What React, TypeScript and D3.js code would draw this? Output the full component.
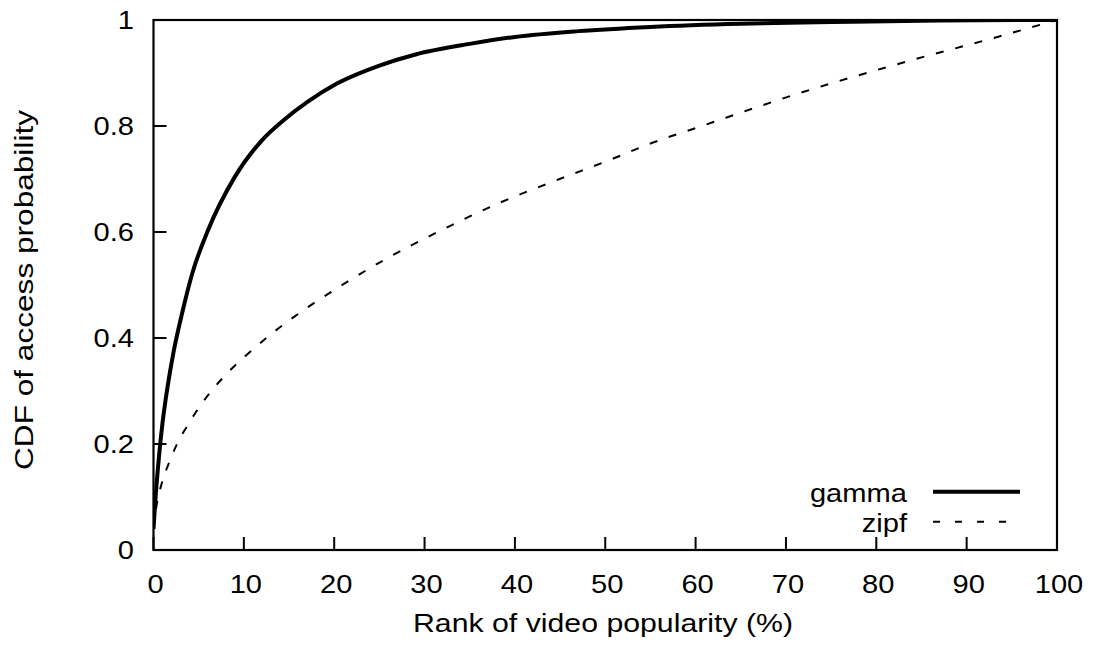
import React from "react";
import * as d3 from "d3";

const gammaRank = [0, 0.17, 0.64, 1.0, 1.53, 2.19, 3.1, 4.33, 6.0, 9.0, 12, 14.4, 17, 20.3, 25, 29, 35, 40, 47, 55, 65, 75, 87, 100];
const gammaCdf = [0.04, 0.085, 0.182, 0.24, 0.305, 0.371, 0.442, 0.524, 0.602, 0.704, 0.773, 0.811, 0.845, 0.88, 0.914, 0.935, 0.955, 0.968, 0.979, 0.987, 0.993, 0.996, 0.999, 1.0];

const zipfRank = [0, 0.3, 0.9, 1.8, 2.75, 3.7, 5, 6.6, 8.3, 10.3, 13, 16.4, 20.6, 25.4, 31.7, 38.3, 44.5, 50.5, 55, 60.5, 71.5, 82.6, 93.6, 100];
const zipfCdf = [0.04, 0.08, 0.125, 0.168, 0.205, 0.233, 0.268, 0.304, 0.336, 0.368, 0.407, 0.45, 0.497, 0.546, 0.602, 0.655, 0.697, 0.736, 0.767, 0.799, 0.862, 0.918, 0.969, 1.0];

const xTicks = [0, 10, 20, 30, 40, 50, 60, 70, 80, 90, 100];
const yTicks = [0, 0.2, 0.4, 0.6, 0.8, 1];
const seriesNames = ["gamma", "zipf"];

const W = 1093;
const H = 646;
const L = 153.5, R = 1057, T = 20, B = 550;
const FONT = "'Liberation Sans', Arial, sans-serif";

export default function App() {
  const x = d3.scaleLinear().domain([0, 100]).range([L, R]);
  const y = d3.scaleLinear().domain([0, 1]).range([B, T]);
  const line = d3
    .line<[number, number]>()
    .x((d) => x(d[0]))
    .y((d) => y(d[1]))
    .curve(d3.curveMonotoneX);
  const gammaPts: [number, number][] = gammaRank.map((r, i) => [r, gammaCdf[i]]);
  const zipfPts: [number, number][] = zipfRank.map((r, i) => [r, zipfCdf[i]]);
  const tickLen = 13;
  const sx = 1.12;

  return (
    <svg
      width={W}
      height={H}
      style={{ position: "absolute", left: 0, top: 0, background: "#fff" }}
      fontFamily={FONT}
    >
      <defs>
        <clipPath id="plotclip">
          <rect x={L} y={T} width={R - L} height={B - T} />
        </clipPath>
      </defs>
      <rect x={0} y={0} width={W} height={H} fill="#fff" />
      {xTicks.map((t) => (
        <g key={"x" + t}>
          <line x1={x(t)} x2={x(t)} y1={B} y2={B - tickLen} stroke="#000" strokeWidth={2} />
          <text
            transform={`translate(${x(t) + 2},593) scale(${sx},1)`}
            textAnchor="middle"
            fontSize={26}
            fill="#000"
          >
            {t}
          </text>
        </g>
      ))}
      {yTicks.map((t) => (
        <g key={"y" + t}>
          <line x1={L} x2={L + tickLen} y1={y(t)} y2={y(t)} stroke="#000" strokeWidth={2} />
          <text
            transform={`translate(134,${y(t) + 9.3}) scale(${sx},1)`}
            textAnchor="end"
            fontSize={26}
            fill="#000"
          >
            {String(t)}
          </text>
        </g>
      ))}
      <g clipPath="url(#plotclip)">
        <path d={line(zipfPts) || ""} fill="none" stroke="#000" strokeWidth={2} strokeDasharray="8 12" />
        <path d={line(gammaPts) || ""} fill="none" stroke="#000" strokeWidth={4} strokeLinejoin="round" />
      </g>
      <rect x={L} y={T} width={R - L} height={B - T} fill="none" stroke="#000" strokeWidth={2.2} />
      <text transform={`translate(907,501.5) scale(${sx},1)`} textAnchor="end" fontSize={26} fill="#000">
        {seriesNames[0]}
      </text>
      <line x1={933} x2={1020} y1={491.7} y2={491.7} stroke="#000" strokeWidth={4} />
      <text transform={`translate(907,531.5) scale(${sx},1)`} textAnchor="end" fontSize={26} fill="#000">
        {seriesNames[1]}
      </text>
      <line x1={933} x2={1008} y1={521.7} y2={521.7} stroke="#000" strokeWidth={2} strokeDasharray="7 15" />
      <text
        x={603}
        y={632}
        textAnchor="middle"
        fontSize={26}
        textLength={380}
        lengthAdjust="spacingAndGlyphs"
        fill="#000"
      >
        Rank of video popularity (%)
      </text>
      <text
        transform={`translate(33,290) rotate(-90)`}
        textAnchor="middle"
        fontSize={26}
        textLength={360}
        lengthAdjust="spacingAndGlyphs"
        fill="#000"
      >
        CDF of access probability
      </text>
    </svg>
  );
}
